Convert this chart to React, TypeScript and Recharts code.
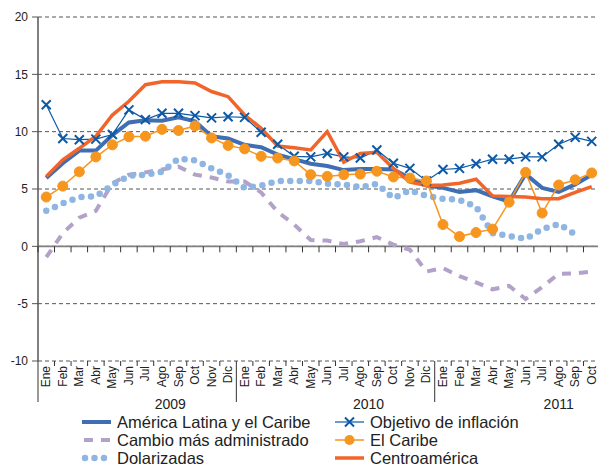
import {
  LineChart,
  Line,
  XAxis,
  YAxis,
  CartesianGrid,
  ReferenceLine,
  ReferenceDot,
} from "recharts";

const monthNames = ["Ene", "Feb", "Mar", "Abr", "May", "Jun", "Jul", "Ago", "Sep", "Oct", "Nov", "Dic"];
const years = ["2009", "2010", "2011"];
const monthsPerYear = [12, 12, 10];
// where each year label sits, in category units
const yearLabelAt = [7.5, 19.5, 31];
const yTicks = [-10, -5, 0, 5, 10, 15, 20];

const americaLatina = [5.95, 7.25, 8.35, 8.35, 9.7, 10.8, 11.0, 10.95, 11.25, 10.9, 9.6, 9.4, 8.85, 8.65, 8.0, 7.6, 7.2, 7.0, 6.65, 6.75, 6.75, 6.7, 5.95, 5.3, 5.1, 4.75, 4.9, 4.35, 3.9, 6.3, 5.1, 4.75, 5.4, 6.25];
const objetivo = [12.35, 9.4, 9.3, 9.35, 9.75, 11.9, 11.05, 11.6, 11.6, 11.4, 11.2, 11.3, 11.25, 9.95, 8.9, 7.85, 7.8, 8.1, 7.8, 7.7, 8.4, 7.25, 6.8, 5.7, 6.7, 6.8, 7.2, 7.6, 7.6, 7.8, 7.8, 8.9, 9.5, 9.15];
const cambio = [-0.95, 1.15, 2.5, 3.1, 5.5, 6.25, 6.45, 6.7, 6.95, 6.25, 6.0, 5.65, 5.65, 4.7, 3.0, 1.9, 0.55, 0.5, 0.2, 0.45, 0.8, 0.15, -0.3, -2.2, -1.9, -2.6, -3.15, -3.75, -3.45, -4.6, -3.55, -2.4, -2.35, -2.2];
const caribe = [4.3, 5.25, 6.5, 7.8, 8.85, 9.55, 9.6, 10.2, 10.1, 10.5, 9.45, 8.8, 8.5, 7.85, 7.7, 7.45, 6.25, 6.1, 6.25, 6.3, 6.55, 6.05, 5.95, 5.7, 1.9, 0.85, 1.2, 1.5, 3.85, 6.45, 2.9, 5.35, 5.8, 6.4];
const dolarizadas = [3.1, 3.75, 4.3, 4.35, 5.35, 6.15, 6.25, 6.5, 7.65, 7.5, 6.8, 6.2, 5.1, 5.3, 5.7, 5.7, 5.7, 5.45, 5.4, 5.15, 5.45, 4.2, 4.9, 4.4, 4.15, 4.05, 3.45, 1.15, 0.9, 0.65, 1.5, 1.95, 1.05, null];
const centroamerica = [6.1, 7.55, 8.55, 9.6, 11.45, 12.65, 14.1, 14.35, 14.35, 14.25, 13.5, 13.05, 11.45, 10.3, 8.75, 8.6, 8.4, 10.0, 7.35, 8.1, 8.2, 6.8, 5.6, 5.3, 5.35, 5.5, 5.85, 4.4, 4.35, 4.3, 4.15, 4.15, 4.7, 5.2];

const categories: { key: string; month: string; year: string }[] = [];
years.forEach((yr, k) => {
  for (let m = 0; m < monthsPerYear[k]; m++) {
    categories.push({ key: `${monthNames[m]} ${yr}`, month: monthNames[m], year: yr });
  }
});

const data = categories.map((c, i) => ({
  name: c.key,
  al: americaLatina[i],
  obj: objetivo[i],
  cam: cambio[i],
  car: caribe[i],
  dol: dolarizadas[i],
  ca: centroamerica[i],
}));

const W = 600;
const H = 467;
const Y_W = 38;
const TOP = 17;
const X_H = 106;
const STEP = (W - Y_W) / categories.length;
const HB = STEP / 2;
const FONT = "'Liberation Sans', Arial, sans-serif";

const C_AL = "#3f6eb3";
const C_OBJ = "#0c59a6";
const C_CAM = "#b2a1c9";
const C_CAR = "#f7961f";
const C_DOL = "#8fb6e3";
const C_CA = "#f2652a";

function MonthTick(props: any) {
  const { x, y, payload } = props;
  const i = payload.index;
  const c = categories[i];
  const firstOfYear = c.month === "Ene";
  const last = i === categories.length - 1;
  const yl = yearLabelAt.findIndex((p) => Math.floor(p) === i);
  return (
    <g>
      <line x1={x - HB} x2={x - HB} y1={y} y2={firstOfYear ? y + 41 : y + 5} stroke="#333" strokeWidth={1} />
      {last && <line x1={x + HB} x2={x + HB} y1={y} y2={y + 41} stroke="#333" strokeWidth={1} />}
      <text
        x={x + 4}
        y={y + 5}
        transform={`rotate(-90 ${x + 4} ${y + 5})`}
        textAnchor="end"
        fontSize={12}
        fontFamily={FONT}
        fill="#222"
      >
        {c.month}
      </text>
      {yl >= 0 && (
        <text
          x={x + (yearLabelAt[yl] - i) * STEP}
          y={y + 48}
          textAnchor="middle"
          fontSize={14}
          fontFamily={FONT}
          fill="#222"
        >
          {years[yl]}
        </text>
      )}
    </g>
  );
}

function XMark(props: any) {
  const { cx, cy } = props;
  if (cx == null || cy == null) return null;
  const s = 4.5;
  return (
    <path
      d={`M${cx - s},${cy - s}L${cx + s},${cy + s}M${cx - s},${cy + s}L${cx + s},${cy - s}`}
      stroke={C_OBJ}
      strokeWidth={2}
    />
  );
}

const legendItems = [
  { label: "América Latina y el Caribe", kind: "al", col: 0, row: 0 },
  { label: "Objetivo de inflación", kind: "obj", col: 1, row: 0 },
  { label: "Cambio más administrado", kind: "cam", col: 0, row: 1 },
  { label: "El Caribe", kind: "car", col: 1, row: 1 },
  { label: "Dolarizadas", kind: "dol", col: 0, row: 2 },
  { label: "Centroamérica", kind: "ca", col: 1, row: 2 },
];

function LegendIcon({ kind, x, y }: { kind: string; x: number; y: number }) {
  const x2 = x + 29;
  const mid = x + 14.5;
  switch (kind) {
    case "al":
      return <line x1={x} x2={x2} y1={y} y2={y} stroke={C_AL} strokeWidth={4} />;
    case "ca":
      return <line x1={x} x2={x2} y1={y} y2={y} stroke={C_CA} strokeWidth={3.5} />;
    case "obj":
      return (
        <g>
          <line x1={x} x2={x2} y1={y} y2={y} stroke={C_OBJ} strokeWidth={1.2} />
          <XMark cx={mid} cy={y} />
        </g>
      );
    case "car":
      return (
        <g>
          <line x1={x} x2={x2} y1={y} y2={y} stroke={C_CAR} strokeWidth={1.5} />
          <circle cx={mid} cy={y} r={5} fill={C_CAR} />
        </g>
      );
    case "cam":
      return <line x1={x + 2} x2={x2} y1={y} y2={y} stroke={C_CAM} strokeWidth={4} strokeDasharray="9 8" />;
    default:
      return (
        <line
          x1={x + 3}
          x2={x2}
          y1={y}
          y2={y}
          stroke={C_DOL}
          strokeWidth={6.5}
          strokeLinecap="round"
          strokeDasharray="0 9.5"
        />
      );
  }
}

export default function App() {
  return (
    <div style={{ position: "absolute", left: 0, top: 0, width: 598, height: H, overflow: "hidden", background: "#fff" }}>
      <LineChart width={W} height={H} data={data} margin={{ top: TOP, right: 0, bottom: 0, left: 0 }}>
        <CartesianGrid vertical={false} stroke="#555" strokeDasharray="4 3" />
        <XAxis
          dataKey="name"
          interval={0}
          height={X_H}
          tickLine={false}
          axisLine={false}
          tickSize={0}
          tickMargin={0}
          padding={{ left: HB, right: HB }}
          tick={<MonthTick />}
        />
        <YAxis
          width={Y_W}
          domain={[-10, 20]}
          ticks={yTicks}
          interval={0}
          tickSize={6}
          tickMargin={4}
          axisLine={{ stroke: "#555", strokeWidth: 1.5 }}
          tickLine={{ stroke: "#555" }}
          tick={{ fontSize: 12, fontFamily: FONT, fill: "#222" }}
        />
        <ReferenceLine y={0} stroke="#808080" strokeWidth={1.6} />
        {categories.map((c, i) => (
          <ReferenceDot
            key={c.key}
            x={c.key}
            y={0}
            shape={(p: any) => (
              <g>
                <line x1={p.cx - HB} x2={p.cx - HB} y1={p.cy} y2={p.cy + 6} stroke="#333" strokeWidth={1} />
                {i === categories.length - 1 && (
                  <line x1={p.cx + HB} x2={p.cx + HB} y1={p.cy} y2={p.cy + 6} stroke="#333" strokeWidth={1} />
                )}
              </g>
            )}
          />
        ))}
        <Line dataKey="al" stroke={C_AL} strokeWidth={4} dot={false} isAnimationActive={false} />
        <Line
          dataKey="cam"
          stroke={C_CAM}
          strokeWidth={4}
          strokeDasharray="9 8"
          dot={false}
          isAnimationActive={false}
        />
        <Line
          dataKey="dol"
          stroke={C_DOL}
          strokeWidth={6.5}
          strokeLinecap="round"
          strokeDasharray="0 9.5"
          dot={false}
          isAnimationActive={false}
        />
        <Line dataKey="obj" stroke={C_OBJ} strokeWidth={1.2} dot={<XMark />} isAnimationActive={false} />
        <Line
          dataKey="car"
          stroke={C_CAR}
          strokeWidth={1.5}
          dot={{ r: 5, fill: C_CAR, stroke: C_CAR, strokeWidth: 1 }}
          isAnimationActive={false}
        />
        <Line dataKey="ca" stroke={C_CA} strokeWidth={3.5} dot={false} isAnimationActive={false} />
      </LineChart>
      <svg width={598} height={60} style={{ position: "absolute", left: 0, top: 410 }}>
        {legendItems.map((it) => {
          const ix = it.col === 0 ? 82 : 335;
          const cy = 12 + it.row * 18;
          return (
            <g key={it.kind}>
              <LegendIcon kind={it.kind} x={ix} y={cy} />
              <text x={ix + 35} y={cy + 6} fontSize={16.5} fontFamily={FONT} fill="#222">
                {it.label}
              </text>
            </g>
          );
        })}
      </svg>
    </div>
  );
}
